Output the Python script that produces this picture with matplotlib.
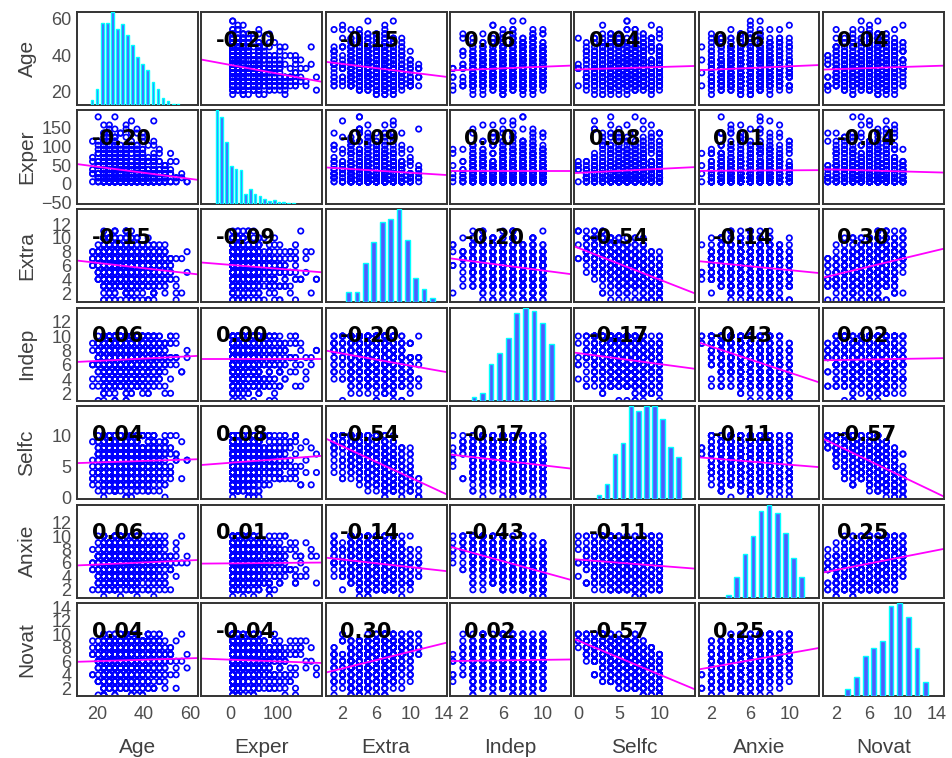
import numpy as np
import matplotlib
matplotlib.use('Agg')
import matplotlib.pyplot as plt
from statistics import NormalDist

plt.rcParams['font.family'] = ['Liberation Sans', 'DejaVu Sans']

names = ['Age', 'Exper', 'Extra', 'Indep', 'Selfc', 'Anxie', 'Novat']

# diagonal histograms (bin centre, bar height)
age_vals = [18.2, 20.6, 23.0, 25.4, 27.8, 30.2, 32.6, 34.9, 37.3, 39.7,
            42.1, 44.5, 46.9, 49.3, 51.7, 54.1, 56.5, 58.8]
age_cnt = [4, 12, 62, 62, 70, 57, 61, 53, 45, 36, 31, 26, 17, 12, 5, 3, 1, 1]
exper_vals = [5.4, 16.3, 27.2, 38.1, 49.0, 59.9, 70.8, 81.7, 92.6, 103.5,
              114.4, 125.3, 136.2, 147.1, 158.0, 168.9, 179.8]
exper_cnt = [128, 119, 84, 52, 48, 46, 13, 20, 13, 11, 6, 4, 5, 2, 2, 1, 1]
extra_vals = [1, 2, 3, 4, 5, 6, 7, 8, 9, 10, 11]
extra_cnt = [14, 14, 52, 80, 107, 111, 125, 84, 32, 17, 5]
indep_vals = [1, 2, 3, 4, 5, 6, 7, 8, 9, 10]
indep_cnt = [3, 7, 32, 42, 55, 77, 82, 79, 68, 50]
selfc_vals = [0, 1, 2, 3, 4, 5, 6, 7, 8, 9, 10]
selfc_cnt = [5, 20, 60, 75, 125, 118, 125, 125, 108, 70, 56]
anxie_vals = [1, 2, 3, 4, 5, 6, 7, 8, 9, 10]
anxie_cnt = [3, 30, 65, 92, 128, 138, 125, 95, 58, 30]
novat_vals = [1, 2, 3, 4, 5, 6, 7, 8, 9, 10]
novat_cnt = [10, 28, 58, 70, 80, 132, 136, 115, 70, 20]

# correlation coefficients printed in the panels
corr = [
    [1.00, -0.20, -0.15, 0.06, 0.04, 0.06, 0.04],
    [-0.20, 1.00, -0.09, 0.00, 0.08, 0.01, -0.04],
    [-0.15, -0.09, 1.00, -0.20, -0.54, -0.14, 0.30],
    [0.06, 0.00, -0.20, 1.00, -0.17, -0.43, 0.02],
    [0.04, 0.08, -0.54, -0.17, 1.00, -0.11, -0.57],
    [0.06, 0.01, -0.14, -0.43, -0.11, 1.00, 0.25],
    [0.04, -0.04, 0.30, 0.02, -0.57, 0.25, 1.00],
]

# axis settings
xlims = [(11.5, 63.5), (-60, 192), (0, 14.3), (0.7, 12.8), (-0.5, 14.4), (0.67, 13.1), (0.4, 14.9)]
ylims = [(12.4, 63.8), (-53, 197), (0.7, 14.2), (1.0, 14.0), (-0.3, 14.8), (0.85, 14.7), (0.86, 14.6)]
hist_lims = [(11.1, 68.2), (-30.5, 246), (-1.74, 12.67), (-1.8, 12.3), (-3.1, 12.1), (-2.7, 12.2), (-1.9, 12.1)]
xticks = [[20, 40, 60], [0, 100], [2, 6, 10, 14], [2, 6, 10], [0, 5, 10], [2, 6, 10], [2, 6, 10, 14]]
yticks = [[20, 40, 60], [-50, 0, 50, 100, 150], [2, 4, 6, 8, 10, 12], [2, 4, 6, 8, 10, 12],
          [0, 5, 10], [2, 4, 6, 8, 10, 12], [2, 4, 6, 8, 10, 12, 14]]

hists = [(age_vals, age_cnt), (exper_vals, exper_cnt), (extra_vals, extra_cnt),
         (indep_vals, indep_cnt), (selfc_vals, selfc_cnt), (anxie_vals, anxie_cnt),
         (novat_vals, novat_cnt)]

# build samples with those marginals, paired by rank so the clouds
# carry roughly the printed correlations
N = 1000


def halton(i, b):
    f, r = 1.0, 0.0
    while i > 0:
        f /= b
        r += f * (i % b)
        i //= b
    return r


primes = [2, 3, 5, 7, 11, 13, 17]
nd = NormalDist()
lat = np.array([[nd.inv_cdf(halton(k + 40, p)) for p in primes] for k in range(N)])
R = np.array(corr)
w, v = np.linalg.eigh(R)
L = v @ np.diag(np.sqrt(np.clip(w, 1e-6, None)))
lat = lat @ L.T

data = []
for d, (vals, cnt) in enumerate(hists):
    pool = np.sort(np.repeat(vals, cnt)).astype(float)
    idx = ((np.arange(N) + 0.5) * len(pool) / N).astype(int)
    col = np.empty(N)
    col[np.argsort(lat[:, d])] = pool[idx]
    data.append(col)

W, H = 952, 758
fig = plt.figure(figsize=(W / 100, H / 100), dpi=100)
tick_col = '#4d4d4d'

for i in range(7):
    for j in range(7):
        left = 77 + 124.3 * j
        top = 12 + 98.5 * i
        ax = fig.add_axes([left / W, 1 - (top + 93) / H, 121 / W, 93 / H])
        ax.set_xlim(xlims[j])
        ax.set_ylim(ylims[i])
        ax.set_xticks(xticks[j])
        ax.set_yticks(yticks[i])
        ax.tick_params(length=0, labelsize=13, colors=tick_col, pad=4)
        ax.tick_params(axis='x', pad=7)
        if j > 0:
            ax.set_yticklabels([])
        if i < 6:
            ax.set_xticklabels([])
        for s in ax.spines.values():
            s.set_color('#333333')
            s.set_linewidth(1.4)

        if i == j:
            vals, cnt = hists[i]
            axh = ax.inset_axes([0, 0, 1, 1])
            step = np.diff(vals).min()
            axh.bar(vals, cnt, width=0.55 * step, color='#4f5bff',
                    edgecolor='#00ffff', linewidth=1.0)
            axh.set_xlim(hist_lims[i])
            axh.set_ylim(0, max(cnt))
            axh.axis('off')
            continue

        x, y = data[j], data[i]
        ax.scatter(x, y, s=15, facecolors='none', edgecolors='blue',
                   linewidths=1.25, zorder=1)
        r = corr[i][j]
        slope = r * y.std() / x.std()
        xs = np.array(xlims[j])
        ax.plot(xs, y.mean() + slope * (xs - x.mean()), color='magenta', lw=1.3, zorder=2)
        ax.text(0.12, 0.69, f'{r:.2f}', transform=ax.transAxes, ha='left', va='center',
                fontsize=15, fontweight='bold', family='DejaVu Sans', color='black', zorder=3)

for k, name in enumerate(names):
    fig.text(27 / W, 1 - (12 + 98.5 * k + 46.5) / H, name, rotation=90,
             ha='center', va='center', fontsize=15, color='#404040')
    fig.text((77 + 124.3 * k + 60.5) / W, 1 - 753 / H, name,
             ha='center', va='baseline', fontsize=15, color='#404040')

fig.savefig('out.png', dpi=100)
